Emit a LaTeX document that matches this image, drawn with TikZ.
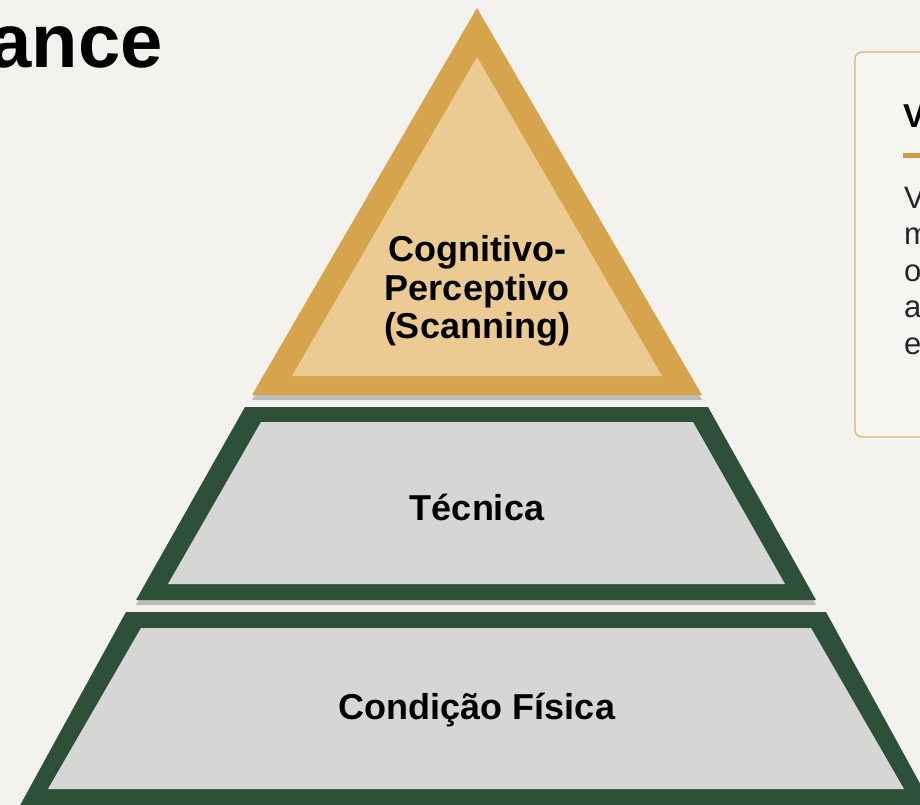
\documentclass[tikz,border=0pt]{standalone}
\usepackage{fontspec}
\setmainfont{Liberation Sans}
\usetikzlibrary{shadows}
\definecolor{bg}{HTML}{F3F2EE}
\definecolor{gold}{HTML}{D6A44C}
\definecolor{tan}{HTML}{ECCB93}
\definecolor{forest}{HTML}{2E5038}
\definecolor{panel}{HTML}{D6D6D4}
\definecolor{boxline}{HTML}{D8B77B}
\definecolor{boxfill}{HTML}{F6F5F1}
\definecolor{accent}{HTML}{D19A45}
\tikzset{
  layershadow/.style={drop shadow={shadow xshift=0pt,shadow yshift=-5pt,opacity=0.22,fill=black}},
  lbl/.style={font=\bfseries\fontsize{36}{38.5}\selectfont, align=center, text=black, inner sep=0pt},
  boxtxt/.style={font=\fontsize{31}{31}\selectfont, anchor=base west, inner sep=0pt, text=black!85}
}
\begin{document}
\begin{tikzpicture}[x=1pt,y=-1pt]
\useasboundingbox (0,0) rectangle (920,805);
\fill[bg] (0,0) rectangle (920,805);
\clip (0,0) rectangle (920,805);

% title fragment
\node[anchor=base east, inner sep=0pt, font=\bfseries\fontsize{76}{76}\selectfont] (title) at (163,68) {ance};

% right info box
\draw[boxline, line width=1.3pt, fill=boxfill, rounded corners=7pt] (855,52) rectangle (960,437);
\node[anchor=base west, inner sep=0pt, font=\bfseries\fontsize{33}{33}\selectfont] (head) at (903,128) {V};
\fill[accent] (903,153) rectangle (925,158);
\node[boxtxt] (l1) at (904,208) {V};
\node[boxtxt] (l2) at (904,244.5) {m};
\node[boxtxt] (l3) at (904,281) {o};
\node[boxtxt] (l4) at (904,317.5) {a};
\node[boxtxt] (l5) at (904,354) {e};

% bottom layer
\fill[forest, layershadow] (126,612) -- (826,612) -- (940,820) -- (12,820) -- cycle;
\fill[panel] (141,628) -- (811,628) -- (904,789) -- (48,789) -- cycle;
% middle layer
\fill[forest, layershadow] (245,407) -- (708,407) -- (816,600) -- (136,600) -- cycle;
\fill[panel] (261,422) -- (693,422) -- (785,584) -- (168,584) -- cycle;
% top layer
\fill[gold, layershadow] (477,8) -- (702,395) -- (252,395) -- cycle;
\fill[tan] (477,57) -- (662,376) -- (292,376) -- cycle;

\node[lbl] (cog) at (477,291) {Cognitivo-\\Perceptivo\\(Scanning)};
\node[lbl] (tec) at (477,507) {Técnica};
\node[lbl] (cond) at (477,710) {Condição Física};
\end{tikzpicture}
\end{document}
